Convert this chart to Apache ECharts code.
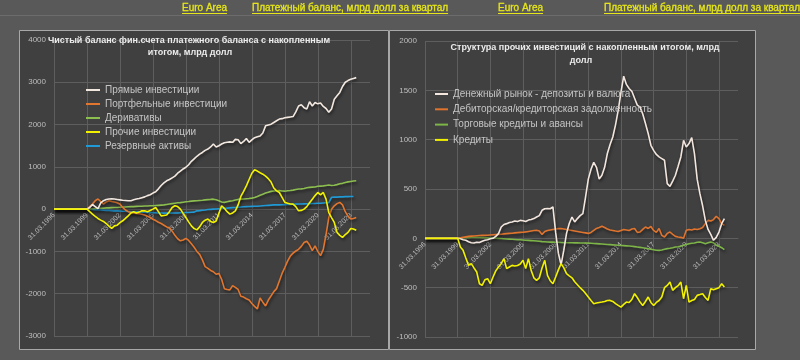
<!DOCTYPE html>
<html><head><meta charset="utf-8">
<script src="https://cdn.jsdelivr.net/npm/echarts@6/dist/echarts.min.js"></script>
<style>html,body{margin:0;padding:0;background:#595959;}#c{width:800px;height:360px;}</style>
</head><body><div id="c"></div>
<script>
// ---- categories (quarter-end dates 1996Q1 .. 2024Q4) ----
const quarterEnds = ['31.03', '30.06', '30.09', '31.12'];
const years = [];
for (let y = 1996; y <= 2024; y++) years.push(y);
const categories = [];
years.forEach(y => quarterEnds.forEach(q => categories.push(q + '.' + y)));

// ---- left chart: net financial account, cumulative, bn USD ----
const directInv = [0,0,0,0,0,0,0,0,0,0,0,0,0,
 40,110,60,10,150,200,230,240,245,240,230,220,210,205,200,200,220,240,250,270,290,320,340,380,410,480,560,620,670,700,740,780,850,900,950,990,1050,1130,1190,1250,1300,1340,1390,1420,1470,1540,1470,1500,1540,1570,1580,1590,1580,1650,1640,1550,1600,1670,1580,1640,1690,1710,1730,1800,1970,1990,2010,2050,2090,2130,2140,2160,2170,2180,2190,2300,2440,2470,2400,2370,2540,2440,2520,2490,2510,2430,2380,2290,2370,2600,2680,2760,2900,3000,3040,3070,3090,3110];
const portfolioInv = [0,0,0,0,0,0,0,0,0,0,0,0,0,
 60,120,200,240,180,120,170,200,180,170,150,120,40,-20,-60,-80,-90,-100,-110,-120,-140,-170,-200,-240,-270,-310,-340,-380,-420,-440,-520,-620,-700,-750,-730,-690,-740,-820,-900,-1000,-1070,-1200,-1360,-1400,-1450,-1480,-1540,-1520,-1660,-1880,-1900,-1910,-1810,-1850,-1900,-2060,-2080,-2120,-2150,-2230,-2300,-2360,-2100,-2200,-2290,-2150,-2050,-1950,-1880,-1700,-1520,-1380,-1230,-1110,-1040,-990,-950,-880,-790,-760,-850,-980,-870,-1000,-1100,-950,-600,-200,0,80,130,160,100,-60,-170,-230,-220,-200];
const derivatives = [0,0,0,0,0,0,0,0,0,0,0,0,0,
 5,10,15,20,20,25,30,30,35,40,40,45,50,50,55,60,60,65,70,70,75,75,80,80,85,90,95,100,110,120,130,140,150,155,165,175,180,190,195,200,205,210,220,225,230,236,220,200,170,160,175,190,200,215,230,236,240,245,250,260,275,300,330,355,380,400,420,430,435,440,430,425,435,440,450,465,475,480,490,505,515,520,525,540,545,550,560,570,560,565,580,600,610,630,645,655,665,670];
const otherInv = [0,0,0,0,0,0,0,0,0,0,0,0,0,
 -60,-118,-170,-220,-260,-290,-340,-400,-456,-395,-380,-320,-275,-220,-160,-90,-60,-90,-70,-40,-40,-60,-30,0,40,-60,-160,-150,-140,-60,40,80,60,0,-100,-197,-300,-395,-460,-490,-420,-315,-260,-236,-290,-315,-280,-100,80,20,-60,-118,-90,-40,100,300,420,550,700,850,930,900,860,827,780,720,640,500,433,394,280,160,140,120,118,60,-40,-30,0,60,150,236,320,394,340,394,236,-80,-200,-315,-550,-620,-670,-600,-550,-456,-470,-500];
const reserves = [0,0,0,0,0,0,0,0,0,0,0,0,0,
 -5,-10,-15,-20,-20,-25,-30,-30,-35,-40,-40,-45,-50,-50,-55,-60,-60,-65,-70,-70,-75,-80,-80,-85,-85,-90,-90,-95,-95,-95,-90,-90,-90,-85,-85,-80,-80,-75,-70,-40,-35,-25,-20,-10,-5,0,5,10,15,20,25,30,35,40,45,50,55,60,62,65,68,70,75,80,85,90,95,100,100,102,105,108,110,112,115,118,120,122,125,128,130,132,135,138,140,145,150,155,280,285,285,290,290,295,295,300,300];

// ---- right chart: structure of other investment, cumulative, bn USD ----
const moneyMarket = [0,0,0,0,0,0,0,0,0,0,0,0,0,
 -5,-15,-20,-35,-45,-47,-40,-42,-30,-20,-15,-5,0,20,48,115,140,149,160,166,175,170,182,178,170,185,190,200,216,230,284,300,301,300,318,60,-150,-270,-120,50,150,216,166,200,230,250,420,600,700,770,720,600,640,720,860,950,1027,1150,1300,1480,1643,1560,1518,1490,1420,1350,1330,1260,1163,1062,943,892,850,825,808,791,555,527,580,639,730,825,994,926,960,1021,859,600,453,330,182,90,40,-20,10,64,149,200];
const receivables = [0,0,0,0,0,0,0,0,0,0,0,0,0,
 5,10,15,20,22,24,26,28,30,30,32,34,36,38,40,42,45,48,50,52,55,58,60,62,65,70,75,80,81,75,40,70,80,85,90,95,98,100,95,90,85,80,75,70,65,60,55,50,60,80,100,110,122,110,95,85,80,74,70,80,90,85,80,95,100,60,64,90,115,100,120,80,60,100,30,13,50,64,40,20,13,10,0,81,90,85,95,90,98,110,149,182,175,190,223,200,149,132];
const tradeCredits = [0,0,0,0,0,0,0,0,0,0,0,0,0,
 3,5,6,7,8,8,8,8,7,6,5,4,3,2,0,-2,-4,-6,-8,-10,-12,-14,-15,-17,-19,-21,-23,-25,-27,-30,-33,-35,-37,-38,-38,-39,-40,-42,-44,-44,-45,-45,-46,-46,-47,-48,-48,-49,-50,-52,-54,-56,-58,-60,-62,-64,-66,-68,-70,-72,-74,-76,-78,-80,-84,-88,-92,-96,-100,-105,-110,-115,-120,-122,-118,-110,-104,-100,-95,-88,-85,-80,-71,-62,-55,-50,-47,-40,-37,-45,-55,-45,-37,-45,-71,-80,-95,-115];
const loans = [0,0,0,0,0,0,0,0,0,0,0,0,0,
 -88,-122,-200,-274,-257,-300,-341,-460,-477,-420,-409,-460,-392,-330,-291,-257,-206,-307,-290,-274,-280,-275,-260,-223,-307,-206,-325,-400,-426,-400,-300,-223,-375,-430,-460,-392,-320,-257,-300,-358,-380,-400,-440,-470,-500,-527,-560,-595,-630,-662,-655,-650,-646,-640,-630,-629,-640,-662,-680,-697,-670,-646,-650,-620,-561,-600,-646,-680,-640,-595,-650,-680,-650,-630,-595,-500,-477,-443,-527,-500,-480,-443,-612,-477,-646,-630,-620,-578,-570,-561,-600,-629,-510,-520,-510,-500,-460,-494];

// ---- axis ranges / ticks ----
const leftY = { min: -3000, max: 4000, step: 1000 };
const rightY = { min: -1000, max: 2000, step: 500 };

const leftNames = ['Прямые инвестиции', 'Портфельные инвестиции', 'Деривативы', 'Прочие инвестиции', 'Резервные активы'];
const rightNames = ['Денежный рынок - депозиты и валюта', 'Дебиторская/кредиторская задолженность', 'Торговые кредиты и авансы', 'Кредиты'];

const FONT = '"Liberation Sans", Arial, sans-serif';
const GRIDC = '#5e5e5e';
const LABELC = '#bdbdbd';

const gridL = { left: 54, right: 430, top: 40, bottom: 24 };
const gridR = { left: 425, right: 62, top: 41, bottom: 23 };

function mkLine(name, data, color, idx) {
  return {
    name: name, type: 'line', data: data, xAxisIndex: idx, yAxisIndex: idx,
    symbol: 'none', showSymbol: false, color: color,
    lineStyle: { color: color, width: 1.6, shadowColor: 'rgba(0,0,0,0.55)', shadowBlur: 3, shadowOffsetX: 1, shadowOffsetY: 2 },
    itemStyle: { color: color }
  };
}

// place the category axis on the value 0 of the value axis (axis crosses at zero)
function zeroOffset(grid, yr) {
  const h = 360 - grid.top - grid.bottom;
  return -h * (0 - yr.min) / (yr.max - yr.min);
}

function xAx(idx, grid, yr) {
  return {
    type: 'category', gridIndex: idx, data: categories, boundaryGap: false,
    position: 'bottom', offset: zeroOffset(grid, yr),
    axisLine: { show: true, onZero: false, lineStyle: { color: GRIDC } },
    axisTick: { show: false },
    axisLabel: { interval: 11, rotate: 45, fontSize: 7, color: LABELC, margin: 5, fontFamily: FONT },
    splitLine: { show: true, interval: 11, lineStyle: { color: GRIDC, width: 1 } }
  };
}
function yAx(idx, yr) {
  return {
    type: 'value', gridIndex: idx, min: yr.min, max: yr.max, interval: yr.step,
    axisLine: { show: false }, axisTick: { show: false },
    axisLabel: { fontSize: 8, color: LABELC, margin: 8, fontFamily: FONT, formatter: v => String(v) },
    splitLine: { show: true, lineStyle: { color: GRIDC, width: 1 } }
  };
}

const mctx = document.createElement('canvas').getContext('2d');
function tw(text, font) { mctx.font = font; return mctx.measureText(text).width; }

const HFONT = '10px ' + FONT;
const HCOL = '#e6e61a';
function headerText(text, x) {
  const w = tw(text, HFONT);
  return [
    { type: 'text', z: 10, style: { text: text, x: x, y: 8, font: HFONT, fill: HCOL, textVerticalAlign: 'middle', stroke: HCOL, lineWidth: 0.3 } },
    { type: 'line', z: 10, shape: { x1: x, y1: 13.5, x2: x + w, y2: 13.5 }, style: { stroke: HCOL, lineWidth: 1 } }
  ];
}
const TFONT = 'bold 9px ' + FONT;
function titleLine(text, x, y) {
  return { type: 'text', z: 10, style: { text: text, x: x, y: y, font: TFONT, fill: '#ececec', textAlign: 'center', textVerticalAlign: 'middle' } };
}

const graphics = [].concat(
  [{ type: 'line', z: 1, shape: { x1: 0, y1: 15.5, x2: 800, y2: 15.5 }, style: { stroke: '#6c6c6c', lineWidth: 1 } },
   { type: 'rect', z: -10, shape: { x: 19.5, y: 30.5, width: 369, height: 319 }, style: { fill: '#404040', stroke: '#a8a8a8', lineWidth: 1 } },
   { type: 'rect', z: -10, shape: { x: 389.5, y: 30.5, width: 366, height: 319 }, style: { fill: '#404040', stroke: '#a8a8a8', lineWidth: 1 } }],
  headerText('Euro Area', 182),
  headerText('Платежный баланс, млрд долл за квартал', 252),
  headerText('Euro Area', 498),
  headerText('Платежный баланс, млрд долл за квартал', 604),
  [titleLine('Чистый баланс фин.счета платежного баланса с накопленным', 189, 40.5),
   titleLine('итогом, млрд долл', 190, 53),
   titleLine('Структура прочих инвестиций с накопленным итогом, млрд', 585, 47.5),
   titleLine('долл', 581, 61)]
);

const chart = echarts.init(document.getElementById('c'), null, { renderer: 'canvas' });
chart.setOption({
  backgroundColor: '#595959',
  animation: false,
  textStyle: { fontFamily: FONT },
  grid: [gridL, gridR],
  xAxis: [xAx(0, gridL, leftY), xAx(1, gridR, rightY)],
  yAxis: [yAx(0, leftY), yAx(1, rightY)],
  legend: [
    { data: leftNames, orient: 'vertical', left: 86, top: 84, itemWidth: 14, itemHeight: 2, itemGap: 2, icon: 'rect',
      textStyle: { color: '#c4c4c4', fontSize: 10, lineHeight: 12, fontFamily: FONT }, padding: 0, selectedMode: false },
    { data: rightNames, orient: 'vertical', left: 435, top: 88, itemWidth: 13, itemHeight: 2, itemGap: 3.3, icon: 'rect',
      textStyle: { color: '#c4c4c4', fontSize: 10, lineHeight: 12, fontFamily: FONT }, padding: 0, selectedMode: false }
  ],
  graphic: graphics,
  series: [
    mkLine(leftNames[4], reserves, '#1f9ad6', 0),
    mkLine(leftNames[2], derivatives, '#8cbd4f', 0),
    mkLine(leftNames[1], portfolioInv, '#e2762e', 0),
    mkLine(leftNames[0], directInv, '#f2e8e0', 0),
    mkLine(leftNames[3], otherInv, '#f2f200', 0),
    mkLine(rightNames[2], tradeCredits, '#7db548', 1),
    mkLine(rightNames[1], receivables, '#e0742e', 1),
    mkLine(rightNames[0], moneyMarket, '#f2e6de', 1),
    mkLine(rightNames[3], loans, '#f2f200', 1)
  ]
});
</script></body></html>
